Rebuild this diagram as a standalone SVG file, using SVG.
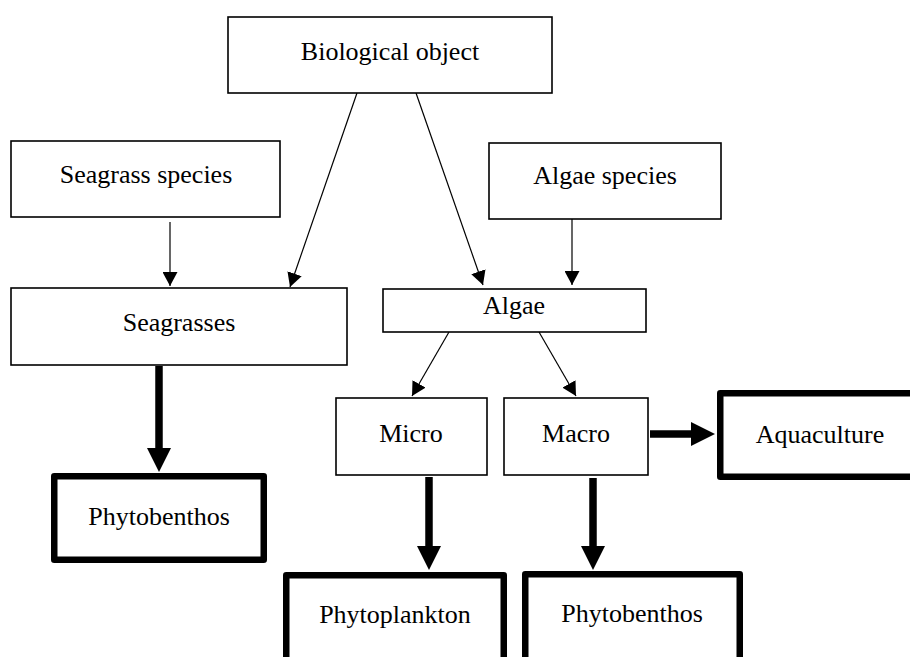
<svg xmlns="http://www.w3.org/2000/svg" width="910" height="657" viewBox="0 0 910 657">
<style>
  .thin { fill: #ffffff; stroke: #000000; stroke-width: 1.6; }
  .thick { fill: #ffffff; stroke: #000000; stroke-width: 6.5; stroke-linejoin: round; }
  .lbl { font-family: "Liberation Serif", "Times New Roman", serif; font-size: 26px; fill: #000000; text-anchor: middle; }
  .c1 { stroke: #000000; stroke-width: 1.2; fill: none; }
  .c2 { stroke: #000000; stroke-width: 7.5; fill: none; }
</style>
<defs>
  <marker id="ah" markerUnits="userSpaceOnUse" markerWidth="14" markerHeight="15" refX="14" refY="7.5" orient="auto" viewBox="0 0 14 15">
    <path d="M0,0 L14,7.5 L0,15 z" fill="#000000"/>
  </marker>
  <marker id="ahb" markerUnits="userSpaceOnUse" markerWidth="24" markerHeight="24" refX="4" refY="12" orient="auto" viewBox="0 0 24 24">
    <path d="M0,0 L24,12 L0,24 z" fill="#000000"/>
  </marker>
</defs>
<rect width="910" height="657" fill="#ffffff"/>

<g id="connectors">
  <line class="c1" x1="170" y1="222" x2="170" y2="286" marker-end="url(#ah)"/>
  <line class="c1" x1="357" y1="93" x2="290" y2="287" marker-end="url(#ah)"/>
  <line class="c1" x1="416" y1="93" x2="483" y2="285" marker-end="url(#ah)"/>
  <line class="c1" x1="572" y1="219" x2="572" y2="285" marker-end="url(#ah)"/>
  <line class="c1" x1="449" y1="332" x2="412" y2="396" marker-end="url(#ah)"/>
  <line class="c1" x1="539" y1="332" x2="576" y2="396" marker-end="url(#ah)"/>
  <line class="c2" x1="159" y1="366" x2="159" y2="452" marker-end="url(#ahb)"/>
  <line class="c2" x1="429" y1="477" x2="429" y2="550" marker-end="url(#ahb)"/>
  <line class="c2" x1="593" y1="478" x2="593" y2="550" marker-end="url(#ahb)"/>
  <line class="c2" x1="650" y1="434" x2="695" y2="434" marker-end="url(#ahb)"/>
</g>

<g id="biological-object">
  <rect class="thin" x="228" y="17" width="324" height="76"/>
  <text class="lbl" x="390" y="60">Biological object</text>
</g>
<g id="seagrass-species">
  <rect class="thin" x="11" y="141" width="269" height="76"/>
  <text class="lbl" x="146" y="183">Seagrass species</text>
</g>
<g id="seagrasses">
  <rect class="thin" x="11" y="288" width="336" height="77"/>
  <text class="lbl" x="179" y="331">Seagrasses</text>
</g>
<g id="algae-species">
  <rect class="thin" x="489" y="143" width="232" height="76"/>
  <text class="lbl" x="605" y="184">Algae species</text>
</g>
<g id="algae">
  <rect class="thin" x="383" y="289" width="263" height="43"/>
  <text class="lbl" x="514" y="314">Algae</text>
</g>
<g id="micro">
  <rect class="thin" x="336" y="398" width="151" height="77"/>
  <text class="lbl" x="411" y="442">Micro</text>
</g>
<g id="macro">
  <rect class="thin" x="504" y="398" width="144" height="77"/>
  <text class="lbl" x="576" y="442">Macro</text>
</g>
<g id="aquaculture">
  <rect class="thick" x="720.25" y="393.25" width="200" height="83.5"/>
  <text class="lbl" x="820" y="443">Aquaculture</text>
</g>
<g id="phytobenthos-1">
  <rect class="thick" x="54.25" y="476.25" width="209.5" height="83.5"/>
  <text class="lbl" x="159" y="525">Phytobenthos</text>
</g>
<g id="phytoplankton">
  <rect class="thick" x="286.25" y="575.25" width="217.5" height="100"/>
  <text class="lbl" x="395" y="623">Phytoplankton</text>
</g>
<g id="phytobenthos-2">
  <rect class="thick" x="525.25" y="574.25" width="214.5" height="100"/>
  <text class="lbl" x="632" y="622">Phytobenthos</text>
</g>
</svg>
